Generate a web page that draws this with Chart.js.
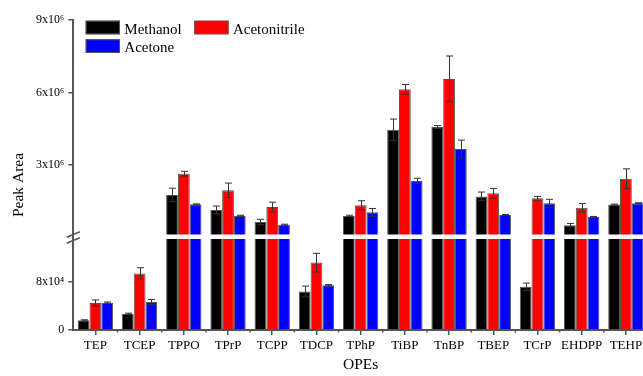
<!DOCTYPE html>
<html><head><meta charset="utf-8">
<script src="https://cdn.jsdelivr.net/npm/chart.js@4.4.1/dist/chart.umd.min.js"></script>
<style>
html,body{margin:0;padding:0;overflow:hidden;background:#fff;}
#wrap{width:648px;height:376px;position:relative;}
</style></head><body>
<div id="wrap"><canvas id="c"></canvas></div>
<script>
const categories = ['TEP','TCEP','TPPO','TPrP','TCPP','TDCP','TPhP','TiBP','TnBP','TBEP','TCrP','EHDPP','TEHP'];
const seriesNames = ['Methanol','Acetonitrile','Acetone'];

const methanol        = [1.6e4, 2.7e4, 1.76e6, 1.14e6, 0.64e6, 6.4e4, 0.89e6, 4.46e6, 4.57e6, 1.70e6, 7.2e4, 0.51e6, 1.36e6];
const methanolErr     = [0.1e4, 0.1e4, 0.28e6, 0.16e6, 0.11e6, 0.9e4, 0.03e6, 0.44e6, 0.06e6, 0.18e6, 0.6e4, 0.07e6, 0.02e6];
const acetonitrile    = [4.5e4, 9.4e4, 2.64e6, 1.95e6, 1.26e6, 11.2e4, 1.33e6, 6.13e6, 6.56e6, 1.83e6, 1.62e6, 1.23e6, 2.43e6];
const acetonitrileErr = [0.5e4, 0.95e4, 0.1e6, 0.3e6, 0.2e6, 1.55e4, 0.19e6, 0.2e6, 0.95e6, 0.2e6, 0.08e6, 0.18e6, 0.41e6];
const acetone         = [4.55e4, 4.67e4, 1.37e6, 0.90e6, 0.53e6, 7.45e4, 1.04e6, 2.34e6, 3.66e6, 0.93e6, 1.42e6, 0.85e6, 1.42e6];
const acetoneErr      = [0.1e4, 0.4e4, 0.02e6, 0.02e6, 0.02e6, 0.1e4, 0.16e6, 0.11e6, 0.37e6, 0.02e6, 0.16e6, 0.02e6, 0.02e6];

const lowTicks = [0, 8e4];
const lowTickLabels = ['0', '8x10\u2074'];
const highTicks = [3e6, 6e6, 9e6];
const highTickLabels = ['3x10\u2076', '6x10\u2076', '9x10\u2076'];
const xTitle = 'OPEs';
const yTitle = 'Peak Area';

const LOW_MAX = 1.55e5;   // top of lower axis segment
const HIGH_MIN = 3e4;     // bottom of upper axis segment
const HIGH_MAX = 9e6;

const FONT = "'Liberation Serif','Times New Roman',serif";
const colors = ['#000000', '#ff0000', '#0000ff'];
const values = [methanol, acetonitrile, acetone];
const errors = [methanolErr, acetonitrileErr, acetoneErr];
const AX = '#555';

const datasets = [];
values.forEach((vals, i) => {
  const common = {label: seriesNames[i], stack: 's' + i, backgroundColor: colors[i], borderColor: '#555', borderWidth: 1, errors: errors[i], raw: vals};
  datasets.push(Object.assign({}, common, {data: vals.map(v => Math.min(v, LOW_MAX)), yAxisID: 'yLow', part: 'low'}));
  datasets.push(Object.assign({}, common, {data: vals.map(v => v > LOW_MAX ? v : null), yAxisID: 'yHigh', part: 'high'}));
});

const decor = {
  id: 'decor',
  afterDatasetsDraw(chart) {
    const ctx = chart.ctx, ca = chart.chartArea;
    const yb = chart.scales.yLow.top;
    ctx.save();
    // white gap of the broken axis
    ctx.fillStyle = '#fff';
    ctx.fillRect(ca.left + 1.5, yb - 2.25, ca.right - ca.left, 4.5);
    // error bars
    ctx.strokeStyle = '#333';
    ctx.lineWidth = 1;
    chart.data.datasets.forEach((ds, di) => {
      const meta = chart.getDatasetMeta(di);
      const sc = chart.scales[ds.yAxisID];
      meta.data.forEach((bar, j) => {
        const v = ds.raw[j];
        if (ds.part === 'low' && v > LOW_MAX) return;
        if (ds.part === 'high' && !(v > LOW_MAX)) return;
        const e = ds.errors[j];
        const x = Math.round(bar.x) + 0.5;
        const y1 = sc.getPixelForValue(v + e), y2 = sc.getPixelForValue(v - e);
        const cw = 3.5;
        ctx.beginPath();
        ctx.moveTo(x, y1); ctx.lineTo(x, y2);
        ctx.moveTo(x - cw, y1); ctx.lineTo(x + cw, y1);
        ctx.moveTo(x - cw, y2); ctx.lineTo(x + cw, y2);
        ctx.stroke();
      });
    });
    // axis break marks
    const ax = ca.left;
    ctx.strokeStyle = AX;
    ctx.lineWidth = 1.5;
    ctx.beginPath();
    ctx.moveTo(ax - 6.5, yb + 0.5); ctx.lineTo(ax + 6.5, yb - 5);
    ctx.moveTo(ax - 6.5, yb + 6.5); ctx.lineTo(ax + 6.5, yb + 1);
    ctx.stroke();
    // minor ticks at category boundaries
    const xs = chart.scales.x;
    const step = xs.getPixelForValue(1) - xs.getPixelForValue(0);
    ctx.lineWidth = 1.5;
    ctx.beginPath();
    for (let i = 1; i < categories.length; i++) {
      const bx = xs.getPixelForValue(i) - step / 2;
      ctx.moveTo(bx, ca.bottom); ctx.lineTo(bx, ca.bottom + 2.5);
    }
    ctx.stroke();
    ctx.restore();
  },
  afterDraw(chart) {
    const ctx = chart.ctx;
    ctx.save();
    // y axis title
    ctx.fillStyle = '#000';
    ctx.font = '15.5px ' + FONT;
    ctx.textAlign = 'center';
    ctx.textBaseline = 'middle';
    ctx.translate(19, 185);
    ctx.rotate(-Math.PI / 2);
    ctx.fillText(yTitle, 0, 0);
    ctx.restore();
    // legend
    ctx.save();
    const pos = [[85.7, 20.7], [194.3, 20.7], [85.7, 39.3]];
    ctx.font = '15px ' + FONT;
    ctx.textAlign = 'left';
    ctx.textBaseline = 'alphabetic';
    chart.data.datasets.filter(d => d.part === 'low').forEach((d, i) => {
      const [lx, ly] = pos[i];
      ctx.fillStyle = d.backgroundColor;
      ctx.fillRect(lx, ly, 34.3, 13.6);
      ctx.strokeStyle = '#555';
      ctx.lineWidth = 1;
      ctx.strokeRect(lx + 0.5, ly + 0.5, 33.3, 12.6);
      ctx.fillStyle = '#000';
      ctx.fillText(d.label, lx + 38.6, ly + 12.8);
    });
    ctx.restore();
  }
};

const yCommon = {
  type: 'linear', position: 'left', stack: 'y', bounds: 'data',
  grid: {drawOnChartArea: false, drawTicks: true, tickLength: 5, color: AX, lineWidth: 1.5},
  border: {display: true, color: AX, width: 2},
  afterFit: s => { s.width = 73.3; }
};

new Chart(document.getElementById('c'), {
  type: 'bar',
  data: {labels: categories, datasets},
  options: {
    responsive: true, maintainAspectRatio: false, animation: false,
    layout: {padding: {top: 20, left: 0, right: 0, bottom: 0}},
    datasets: {bar: {categoryPercentage: 0.8, barPercentage: 1.0}},
    plugins: {legend: {display: false}, tooltip: {enabled: false}},
    scales: {
      x: {
        type: 'category', offset: true,
        grid: {offset: false, drawOnChartArea: false, tickLength: 5, color: AX, lineWidth: 1.5},
        border: {display: true, color: AX, width: 2},
        ticks: {font: {family: FONT, size: 13}, color: '#000', padding: 3, maxRotation: 0, autoSkip: false},
        title: {display: true, text: xTitle, font: {family: FONT, size: 15.5}, color: '#000', padding: {top: 0, bottom: 2}},
        afterFit: s => { s.height = 46; }
      },
      yLow: Object.assign({}, yCommon, {
        stackWeight: 93.25, min: 0, max: LOW_MAX, stacked: false,
        afterBuildTicks: s => { s.ticks = lowTicks.map(v => ({value: v})); },
        ticks: {callback: (v, i) => lowTickLabels[i], font: {family: FONT, size: 12}, color: '#000', padding: 4}
      }),
      yHigh: Object.assign({}, yCommon, {
        stackWeight: 216.75, min: HIGH_MIN, max: HIGH_MAX, stacked: false,
        afterBuildTicks: s => { s.ticks = highTicks.map(v => ({value: v})); },
        ticks: {callback: (v, i) => highTickLabels[i], font: {family: FONT, size: 12}, color: '#000', padding: 4}
      })
    }
  },
  plugins: [decor]
});
</script>
</body></html>
